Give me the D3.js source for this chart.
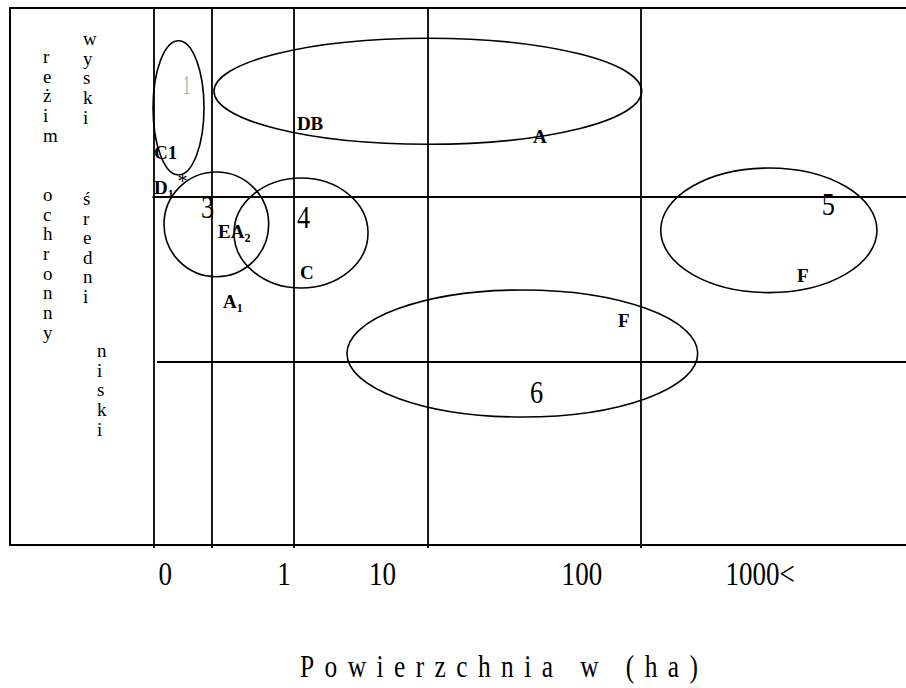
<!DOCTYPE html>
<html>
<head>
<meta charset="utf-8">
<script src="https://cdn.jsdelivr.net/npm/d3@7"></script>
<style>
  body { margin: 0; background: #fff; }
  svg text { font-family: "Liberation Serif", "Times New Roman", serif; fill: #000; }
</style>
</head>
<body>
<div id="graphicContainer"></div>
<script>
// diagram units: x 0..100 across the plot, y 0..100 top to bottom
var areaTicks = ["0", "1", "10", "100", "1000<"]
var areaTickAt = [1.5, 17.3, 30.4, 56.9, 80.6]

var columnBreaks = [0, 7.71, 18.62, 36.44, 64.76]
var rowBreaks = [35.2, 65.92]
var rowStarts = [-0.2, 0.4]

// ellipse extents [x0, x1, y0, y1]
var zoneNames = ["1", "2", "3", "4", "5", "6"]
var zoneExtents = [
    [-0.13, 6.65, 6.09, 31.1],
    [7.98, 64.85, 5.64, 25.38],
    [1.33, 15.25, 30.54, 50.04],
    [10.64, 28.46, 31.66, 52.14],
    [67.38, 96.14, 29.8, 53.0],
    [25.66, 72.30, 52.51, 76.16]
]

// zone numbers
var zoneNumbers = ["1", "3", "4", "5", "6"]
var zoneNumberAt = [[3.86, 16.0], [6.25, 39.1], [19.0, 41.0], [88.8, 38.5], [50.0, 73.6]]

// object codes (main text, subscript)
var codeMain = ["C1", "D", "EA", "C", "A", "DB", "A", "F", "F"]
var codeSub = ["", "1", "2", "", "1", "", "", "", ""]
var codeAt = [[0, 28.1], [0, 34.6], [8.51, 42.8], [19.4, 50.5], [9.18, 55.9],
              [19.0, 22.7], [50.4, 25.1], [85.5, 51.0], [61.7, 59.4]]

var regimeTitle = "reżim  ochronny"
var levelNames = ["wyski", "średni", "niski"]

let target = "#graphicContainer";

function makeChart() {
    var width = 906, height = 688;
    var frame = {left: 10, top: 8, right: 910, bottom: 545};

    d3.select(target + " svg").remove();

    var svg = d3.select(target).append("svg")
        .attr("width", width)
        .attr("height", height)

    var x = d3.scaleLinear().domain([0, 100]).range([154, 906])
    var y = d3.scaleLinear().domain([0, 100]).range([frame.top, frame.bottom])

    svg.append("rect")
        .attr("x", frame.left)
        .attr("y", frame.top)
        .attr("width", frame.right - frame.left)
        .attr("height", frame.bottom - frame.top)
        .attr("fill", "none")
        .attr("stroke", "#000")
        .attr("stroke-width", 2)

    svg.selectAll(".col")
        .data(columnBreaks)
        .enter()
        .append("line")
            .attr("x1", d => x(d)).attr("x2", d => x(d))
            .attr("y1", y(0)).attr("y2", y(100) + 3)
            .attr("stroke", "#000")
            .attr("stroke-width", 1.8)

    svg.selectAll(".row")
        .data(rowBreaks)
        .enter()
        .append("line")
            .attr("x1", (d, i) => x(rowStarts[i])).attr("x2", x(100))
            .attr("y1", d => y(d)).attr("y2", d => y(d))
            .attr("stroke", "#000")
            .attr("stroke-width", 1.8)

    svg.selectAll(".zone")
        .data(zoneExtents)
        .enter()
        .append("ellipse")
            .attr("cx", d => (x(d[0]) + x(d[1])) / 2)
            .attr("cy", d => (y(d[2]) + y(d[3])) / 2)
            .attr("rx", d => (x(d[1]) - x(d[0])) / 2)
            .attr("ry", d => (y(d[3]) - y(d[2])) / 2)
            .attr("fill", "none")
            .attr("stroke", "#000")
            .attr("stroke-width", 1.6)

    // big zone numbers, condensed serif; the first one is faint
    svg.selectAll(".znum")
        .data(zoneNumbers)
        .enter()
        .append("text")
            .attr("transform", (d, i) => "translate(" + x(zoneNumberAt[i][0]) + "," + y(zoneNumberAt[i][1]) + ") scale(" + (i == 0 ? 0.55 : 0.85) + ",1)")
            .attr("font-size", (d, i) => i == 0 ? 27 : 31)
            .style("fill", (d, i) => i == 0 ? "#b0b0b0" : "#000")
            .text(d => d)

    // asterisk between zone 1 and 3
    svg.append("text")
        .attr("x", x(3.79)).attr("y", y(33.5))
        .attr("text-anchor", "middle")
        .attr("font-size", 20)
        .text("*")

    var codes = svg.selectAll(".code")
        .data(codeMain)
        .enter()
        .append("text")
            .attr("x", (d, i) => x(codeAt[i][0]))
            .attr("y", (d, i) => y(codeAt[i][1]))
            .attr("font-size", 19)
            .attr("font-weight", "bold")

    codes.append("tspan").text(d => d)
    codes.append("tspan")
        .attr("font-size", 12)
        .attr("dy", 4)
        .text((d, i) => codeSub[i])

    // left side: stacked vertical letters
    var left = svg.append("g")
    var lineGap = 19.7

    left.selectAll(".reg")
        .data(Array.from(regimeTitle))
        .enter()
        .append("text")
            .attr("x", 43)
            .attr("y", (d, i) => 63 + i * lineGap)
            .attr("font-size", 19)
            .text(d => d)

    var levelStart = [[83, 45], [83, 205], [97, 357]]
    levelNames.forEach((name, k) => {
        left.selectAll(".lv" + k)
            .data(Array.from(name))
            .enter()
            .append("text")
                .attr("x", levelStart[k][0])
                .attr("y", (d, i) => levelStart[k][1] + i * (k == 1 ? 19.5 : lineGap))
                .attr("font-size", 19)
                .text(d => d)
    })

    // area axis
    svg.selectAll(".tick")
        .data(areaTicks)
        .enter()
        .append("text")
            .attr("transform", (d, i) => "translate(" + x(areaTickAt[i]) + ",585) scale(0.82,1)")
            .attr("text-anchor", "middle")
            .attr("font-size", 33)
            .text(d => d)

    svg.append("text")
        .attr("transform", "translate(300,677) scale(0.82,1)")
        .attr("font-size", 31)
        .attr("textLength", 398 / 0.82)
        .attr("lengthAdjust", "spacing")
        .text("Powierzchnia w (ha)")
}

makeChart()
</script>
</body>
</html>
